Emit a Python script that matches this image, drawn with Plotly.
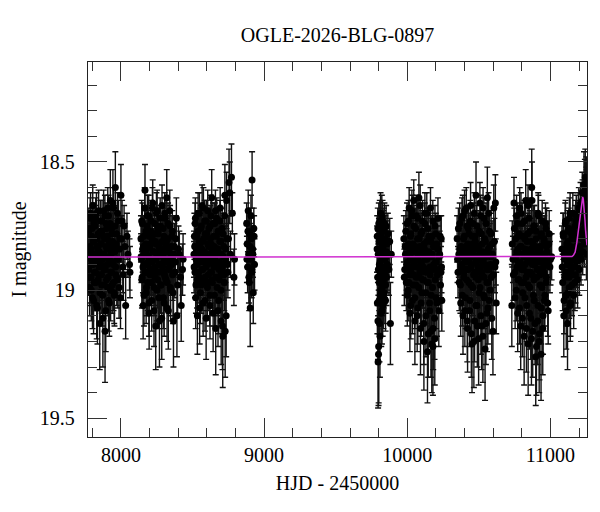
import plotly.graph_objects as go

# ============================================================
# DATOS: curva de luz OGLE (HJD - 2450000, magnitud I, error)
# errores en centesimas de magnitud; dos lotes por temporada
# ============================================================

t1 = [7771, 7774, 7778, 7781, 7784, 7788, 7791, 7794, 7798, 7801,
      7804, 7808, 7811, 7814, 7818, 7821, 7824, 7828, 7831, 7834,
      7838, 7841, 7844, 7848, 7851, 7854, 7858, 7861, 7864, 7868,
      7871, 7874, 7878, 7881, 7884, 7888, 7891, 7894, 7898, 7901,
      7904, 7908, 7911, 7914, 7918, 7921, 7924, 7928, 7931, 7934,
      7938, 7941, 7944, 7948, 7951, 7955, 7959, 7963, 7967, 7971,
      7976, 7981, 7987, 7993, 8000, 8008, 8017, 8028, 8042, 8060]
m1 = [18.85, 18.92, 18.78, 18.99, 18.83, 18.70, 18.95, 18.88, 18.76, 19.03,
      18.90, 18.81, 18.74, 18.97, 18.86, 18.93, 18.72, 18.89, 19.06, 18.80,
      18.84, 18.96, 18.69, 18.91, 18.87, 19.01, 18.77, 18.82, 18.94, 18.73,
      18.88, 19.11, 18.79, 18.86, 18.98, 18.71, 18.92, 19.08, 18.83, 18.76,
      18.90, 18.68, 18.95, 19.04, 18.81, 18.87, 18.74, 19.00, 18.85, 18.93,
      18.78, 18.89, 18.66, 18.97, 18.84, 19.02, 18.75, 18.91, 18.82, 18.95,
      18.70, 18.88, 18.99, 18.80, 18.63, 18.73, 18.94, 18.83, 18.79, 18.90]
e1 = [9, 10, 8, 11, 9, 8, 10, 9, 8, 12,
      10, 9, 8, 11, 9, 10, 8, 9, 13, 9,
      9, 11, 8, 10, 9, 12, 8, 9, 10, 8,
      9, 19, 9, 9, 11, 8, 10, 16, 9, 8,
      10, 8, 11, 12, 9, 9, 8, 12, 9, 10,
      8, 9, 13, 11, 9, 12, 8, 10, 9, 11,
      8, 9, 12, 9, 12, 8, 10, 9, 9, 10]
t1b = [7772, 7776, 7779, 7782, 7786, 7789, 7793, 7796, 7799, 7803,
       7806, 7809, 7812, 7816, 7819, 7823, 7826, 7829, 7833, 7836,
       7839, 7842, 7846, 7849, 7852, 7856, 7859, 7862, 7866, 7869,
       7872, 7876, 7879, 7883, 7886, 7889, 7892, 7896, 7899, 7902,
       7906, 7909, 7913, 7916, 7919, 7922, 7926, 7929, 7932, 7936,
       7939, 7942, 7946, 7949, 7953, 7957, 7961, 7965, 7969, 7973,
       7978, 7983, 7990, 7997, 8004, 8013, 8022, 8033, 8049, 8063]
m1b = [18.91, 18.76, 18.87, 18.95, 18.72, 18.84, 19.00, 18.79, 18.90, 18.67,
       18.86, 19.04, 18.81, 18.93, 18.75, 18.88, 18.97, 18.70, 18.83, 19.07,
       18.89, 18.78, 18.94, 18.85, 19.13, 18.73, 18.90, 18.82, 18.98, 18.77,
       19.02, 18.86, 18.69, 18.92, 18.80, 19.16, 18.87, 18.74, 18.96, 18.84,
       18.79, 18.99, 18.71, 18.88, 19.05, 18.83, 18.65, 18.93, 18.86, 18.76,
       18.98, 18.81, 18.90, 18.68, 19.01, 18.85, 18.60, 18.94, 18.78, 18.88,
       18.96, 18.73, 18.84, 19.03, 18.80, 18.91, 18.75, 19.06, 18.86, 18.93]
e1b = [10, 8, 9, 11, 8, 9, 12, 8, 10, 8,
       9, 13, 9, 10, 8, 9, 11, 8, 9, 14,
       10, 8, 11, 9, 18, 8, 10, 9, 11, 8,
       12, 9, 8, 10, 9, 20, 9, 8, 11, 9,
       8, 11, 8, 9, 13, 9, 12, 10, 9, 8,
       11, 9, 10, 8, 12, 9, 14, 10, 8, 9,
       11, 8, 9, 12, 9, 10, 8, 13, 9, 10]

t2 = [8140, 8143, 8147, 8150, 8154, 8157, 8161, 8164, 8168, 8171,
      8175, 8178, 8182, 8185, 8189, 8192, 8196, 8199, 8203, 8206,
      8210, 8213, 8217, 8220, 8224, 8227, 8231, 8234, 8238, 8241,
      8245, 8248, 8252, 8255, 8259, 8262, 8266, 8269, 8273, 8276,
      8280, 8283, 8287, 8290, 8294, 8297, 8301, 8304, 8308, 8311,
      8315, 8318, 8322, 8325, 8329, 8333, 8337, 8341, 8345, 8349,
      8354, 8359, 8364, 8370, 8376, 8383, 8391, 8402, 8416, 8434]
m2 = [18.80, 18.88, 18.96, 18.74, 18.91, 18.83, 19.02, 18.86, 18.61, 18.93,
      18.77, 18.99, 18.84, 18.71, 18.90, 18.87, 19.05, 18.79, 18.94, 18.82,
      18.73, 18.97, 18.89, 18.68, 18.92, 18.85, 19.08, 18.78, 18.95, 18.81,
      18.88, 18.70, 19.00, 18.86, 18.76, 18.93, 18.83, 19.12, 18.90, 18.75,
      18.98, 18.84, 18.67, 18.91, 18.87, 19.03, 18.79, 18.94, 18.72, 18.89,
      18.96, 18.81, 19.07, 18.85, 18.74, 18.92, 18.88, 18.69, 18.99, 18.83,
      18.90, 18.77, 19.01, 18.86, 18.93, 18.80, 19.10, 18.84, 18.95, 18.88]
e2 = [9, 9, 11, 8, 10, 9, 12, 9, 10, 10,
      8, 11, 9, 8, 10, 9, 13, 8, 10, 9,
      8, 11, 9, 8, 10, 9, 14, 8, 11, 9,
      9, 8, 12, 9, 8, 10, 9, 18, 10, 8,
      11, 9, 8, 10, 9, 12, 8, 10, 8, 9,
      11, 9, 13, 9, 8, 10, 9, 8, 11, 9,
      10, 8, 12, 9, 10, 9, 16, 9, 11, 10]
t2b = [8141, 8145, 8148, 8152, 8155, 8159, 8162, 8166, 8169, 8173,
       8176, 8180, 8183, 8187, 8190, 8194, 8197, 8201, 8204, 8208,
       8211, 8215, 8218, 8222, 8225, 8229, 8232, 8236, 8239, 8243,
       8246, 8250, 8253, 8257, 8260, 8264, 8267, 8271, 8274, 8278,
       8281, 8285, 8288, 8292, 8295, 8299, 8302, 8306, 8309, 8313,
       8316, 8320, 8323, 8327, 8331, 8335, 8339, 8343, 8347, 8352,
       8356, 8361, 8367, 8373, 8380, 8387, 8396, 8408, 8421, 8430]
m2b = [18.87, 18.73, 18.95, 18.84, 19.06, 18.79, 18.90, 18.68, 18.93, 18.82,
       19.01, 18.86, 18.75, 18.97, 18.89, 18.71, 19.09, 18.83, 18.92, 18.77,
       18.88, 19.04, 18.80, 18.66, 18.94, 18.85, 18.99, 18.74, 18.91, 19.14,
       18.82, 18.87, 18.69, 18.96, 18.78, 19.03, 18.90, 18.84, 18.72, 18.98,
       18.86, 19.11, 18.81, 18.93, 18.76, 18.89, 19.05, 18.70, 18.95, 18.83,
       18.88, 18.64, 18.97, 18.80, 19.08, 18.85, 18.91, 18.75, 19.00, 18.87,
       18.79, 18.94, 19.12, 18.83, 18.89, 18.72, 18.98, 18.86, 19.06, 18.92]
e2b = [9, 8, 11, 9, 13, 8, 10, 8, 10, 9,
       12, 9, 8, 11, 9, 8, 14, 9, 10, 8,
       9, 12, 9, 9, 10, 9, 11, 8, 10, 17,
       9, 9, 8, 11, 8, 12, 10, 9, 8, 11,
       9, 16, 9, 10, 8, 9, 13, 8, 11, 9,
       9, 11, 11, 9, 15, 9, 10, 8, 12, 9,
       8, 10, 18, 9, 9, 8, 11, 9, 14, 10]

t3 = [8510, 8513, 8517, 8520, 8524, 8527, 8531, 8534, 8538, 8541,
      8545, 8548, 8552, 8555, 8559, 8562, 8566, 8569, 8573, 8576,
      8580, 8583, 8587, 8590, 8594, 8597, 8601, 8604, 8608, 8611,
      8615, 8618, 8622, 8625, 8629, 8632, 8636, 8639, 8643, 8646,
      8650, 8653, 8657, 8660, 8664, 8667, 8671, 8674, 8678, 8681,
      8685, 8688, 8692, 8695, 8699, 8702, 8706, 8709, 8713, 8716,
      8720, 8724, 8728, 8733, 8738, 8744, 8751, 8760, 8772, 8793]
m3 = [18.86, 18.79, 18.93, 18.72, 18.98, 18.84, 18.90, 19.10, 18.77, 18.88,
      18.95, 18.70, 18.83, 19.01, 18.87, 18.75, 18.92, 18.81, 18.97, 18.68,
      18.89, 18.85, 19.04, 18.78, 18.91, 18.73, 18.86, 18.99, 18.82, 18.94,
      18.76, 18.88, 19.06, 18.80, 18.71, 18.93, 18.85, 18.97, 18.74, 18.90,
      18.83, 19.02, 18.87, 18.69, 18.95, 18.79, 18.91, 18.84, 19.08, 18.77,
      18.89, 18.96, 18.73, 18.86, 19.00, 18.81, 18.92, 19.14, 18.78, 18.87,
      18.94, 18.71, 19.16, 18.84, 18.65, 18.90, 18.80, 18.62, 18.56, 18.88]
e3 = [9, 9, 10, 8, 11, 9, 10, 15, 8, 9,
      10, 8, 9, 12, 9, 8, 10, 9, 11, 8,
      9, 9, 12, 8, 10, 8, 9, 11, 9, 10,
      8, 9, 13, 9, 8, 10, 9, 11, 8, 10,
      9, 12, 9, 8, 10, 8, 10, 9, 14, 8,
      9, 11, 8, 9, 12, 9, 10, 17, 8, 9,
      10, 8, 18, 9, 11, 10, 9, 12, 13, 10]
t3b = [8511, 8515, 8518, 8522, 8525, 8529, 8532, 8536, 8539, 8543,
       8546, 8550, 8553, 8557, 8560, 8564, 8567, 8571, 8574, 8578,
       8581, 8585, 8588, 8592, 8595, 8599, 8602, 8606, 8609, 8613,
       8616, 8620, 8623, 8627, 8630, 8634, 8637, 8641, 8644, 8648,
       8651, 8655, 8658, 8662, 8665, 8669, 8672, 8676, 8679, 8683,
       8686, 8690, 8693, 8697, 8700, 8704, 8707, 8711, 8714, 8718,
       8722, 8726, 8730, 8735, 8741, 8747, 8755, 8765, 8778, 8789]
m3b = [18.91, 18.83, 18.74, 19.03, 18.88, 18.79, 18.96, 18.85, 18.70, 18.93,
       18.81, 19.07, 18.89, 18.76, 18.98, 18.84, 18.67, 18.92, 19.05, 18.80,
       18.87, 18.73, 18.95, 18.86, 19.11, 18.78, 18.90, 18.69, 18.97, 18.83,
       18.88, 19.02, 18.75, 18.93, 18.82, 18.64, 18.96, 18.87, 19.09, 18.79,
       18.91, 18.74, 18.85, 19.15, 18.89, 18.72, 18.99, 18.84, 18.77, 19.04,
       18.92, 18.81, 18.68, 18.94, 19.12, 18.86, 18.76, 19.18, 18.90, 18.83,
       18.97, 18.63, 18.88, 19.10, 18.80, 18.93, 18.58, 18.86, 18.70, 18.95]
e3b = [10, 9, 8, 12, 9, 8, 11, 9, 8, 10,
       9, 14, 9, 8, 11, 9, 8, 10, 13, 9,
       9, 8, 11, 9, 16, 8, 10, 8, 11, 9,
       9, 12, 8, 10, 9, 11, 11, 9, 15, 8,
       10, 8, 9, 18, 9, 8, 11, 9, 8, 13,
       10, 9, 8, 10, 17, 9, 8, 20, 10, 9,
       11, 12, 9, 16, 9, 10, 13, 9, 8, 11]

t4 = [8878, 8882, 8885, 8889, 8892, 8896, 8899, 8903,
      8906, 8910, 8913, 8916, 8920, 8924, 8928, 8933,
      8880, 8887, 8894, 8901, 8908, 8915, 8922, 8930]
m4 = [18.74, 18.82, 18.91, 18.69, 18.86, 18.97, 18.78, 19.07,
      18.88, 18.80, 18.93, 18.57, 18.84, 19.01, 18.76, 18.90,
      18.88, 18.77, 18.95, 18.83, 18.71, 18.92, 18.86, 18.79]
e4 = [8, 9, 10, 8, 9, 11, 8, 15,
      9, 9, 10, 11, 9, 12, 8, 10,
      9, 8, 10, 9, 8, 10, 9, 8]

t5 = [9789, 9791, 9794, 9796, 9798, 9800, 9802, 9804, 9806, 9808,
      9810, 9812, 9814, 9816, 9818, 9820, 9822, 9824, 9826, 9828,
      9830, 9832, 9834, 9836, 9838, 9840, 9842, 9844, 9846, 9848,
      9850, 9852, 9855, 9858, 9861, 9864, 9868, 9872, 9877, 9882]
m5 = [18.84, 19.05, 18.76, 19.28, 18.92, 19.22, 18.81, 18.97, 19.13, 18.73,
      18.89, 19.02, 18.79, 18.94, 19.09, 18.86, 18.71, 18.99, 18.83, 19.06,
      18.91, 18.77, 18.96, 18.85, 19.01, 18.74, 18.88, 18.93, 18.80, 19.04,
      18.87, 18.75, 18.95, 18.82, 18.90, 18.78, 18.86, 18.92, 18.81, 19.13]
e5 = [9, 12, 8, 18, 10, 22, 9, 11, 15, 8,
      9, 12, 9, 10, 13, 9, 8, 11, 9, 12,
      10, 8, 11, 9, 12, 8, 9, 10, 9, 12,
      9, 8, 11, 9, 10, 8, 9, 10, 9, 16]
t5b = [9790, 9793, 9795, 9797, 9799, 9801, 9803, 9805, 9807, 9809,
       9811, 9813, 9815, 9817, 9819, 9821, 9823, 9825, 9827, 9829,
       9831, 9833, 9835, 9837, 9841, 9845, 9849, 9854, 9860, 9888]
m5b = [18.79, 18.95, 19.12, 18.86, 19.25, 18.74, 19.04, 18.90, 18.81, 19.18,
       18.93, 18.70, 19.00, 18.84, 18.97, 18.77, 19.08, 18.88, 18.73, 18.92,
       18.83, 19.03, 18.87, 18.76, 18.94, 18.81, 18.98, 18.85, 18.91, 18.86]
e5b = [8, 11, 15, 9, 20, 8, 13, 10, 9, 16,
       10, 8, 12, 9, 11, 8, 13, 9, 8, 10,
       9, 12, 9, 8, 11, 9, 11, 9, 10, 9]

t6 = [9976, 9982, 9987, 9993, 9998, 10002, 10006, 10010, 10013, 10017,
      10020, 10024, 10027, 10031, 10034, 10038, 10041, 10045, 10048, 10052,
      10055, 10059, 10062, 10066, 10069, 10073, 10076, 10080, 10083, 10087,
      10090, 10094, 10097, 10101, 10104, 10108, 10111, 10115, 10118, 10122,
      10125, 10129, 10132, 10136, 10139, 10143, 10146, 10150, 10153, 10157,
      10160, 10164, 10167, 10171, 10174, 10178, 10181, 10185, 10188, 10192,
      10195, 10199, 10203, 10207, 10212, 10217, 10223, 10229, 10235, 10241]
m6 = [18.80, 18.92, 18.86, 18.97, 18.74, 18.89, 19.00, 18.82, 18.68, 18.94,
      18.87, 19.06, 18.78, 18.91, 18.71, 18.85, 18.98, 18.65, 18.90, 19.03,
      18.83, 18.76, 18.95, 18.88, 19.10, 18.72, 18.86, 18.99, 18.80, 18.93,
      18.67, 18.89, 19.05, 18.84, 18.77, 18.96, 18.91, 19.13, 18.82, 18.74,
      18.88, 19.01, 18.85, 18.70, 18.97, 18.92, 19.17, 18.79, 18.87, 19.08,
      18.94, 18.81, 19.02, 19.21, 18.86, 18.73, 19.15, 18.90, 18.83, 19.19,
      18.96, 18.78, 18.89, 19.05, 18.84, 18.92, 18.87, 18.79, 18.93, 19.04]
e6 = [9, 10, 9, 11, 8, 9, 12, 9, 8, 10,
      9, 13, 8, 10, 8, 9, 11, 8, 10, 12,
      9, 8, 11, 9, 14, 8, 9, 11, 9, 10,
      8, 9, 13, 9, 8, 11, 10, 16, 9, 8,
      9, 12, 9, 8, 11, 10, 17, 9, 9, 14,
      10, 9, 12, 19, 9, 8, 16, 10, 9, 18,
      11, 8, 9, 13, 9, 10, 9, 8, 10, 12]
t6b = [9979, 9985, 9990, 9995, 10000, 10004, 10008, 10011, 10015, 10018,
       10022, 10025, 10029, 10032, 10036, 10039, 10043, 10046, 10050, 10053,
       10057, 10060, 10064, 10067, 10071, 10074, 10078, 10081, 10085, 10088,
       10092, 10095, 10099, 10102, 10106, 10109, 10113, 10116, 10120, 10123,
       10127, 10130, 10134, 10137, 10141, 10144, 10148, 10151, 10155, 10158,
       10162, 10165, 10169, 10172, 10176, 10179, 10183, 10186, 10190, 10193,
       10197, 10201, 10205, 10210, 10214, 10220, 10226, 10232, 10237, 10239]
m6b = [18.95, 18.83, 18.77, 18.90, 19.02, 18.86, 18.73, 18.97, 18.84, 19.09,
       18.79, 18.92, 18.88, 18.69, 19.04, 18.82, 18.94, 18.75, 18.89, 19.12,
       18.85, 18.98, 18.71, 18.91, 18.80, 19.07, 18.87, 18.64, 18.95, 18.83,
       19.15, 18.78, 18.90, 19.01, 18.73, 18.86, 18.96, 19.20, 18.84, 18.70,
       18.93, 19.10, 18.81, 18.88, 19.24, 18.76, 18.97, 18.85, 19.05, 18.91,
       18.68, 19.16, 18.87, 18.79, 18.99, 19.22, 18.83, 18.92, 19.11, 18.75,
       18.89, 19.03, 18.82, 18.94, 18.72, 19.08, 18.86, 18.98, 18.80, 18.91]
e6b = [11, 9, 8, 10, 12, 9, 8, 11, 9, 15,
       8, 10, 9, 8, 13, 9, 10, 8, 9, 17,
       9, 11, 8, 10, 9, 14, 9, 10, 11, 9,
       18, 8, 10, 12, 8, 9, 11, 19, 9, 8,
       10, 16, 9, 9, 20, 8, 11, 9, 13, 10,
       8, 18, 9, 8, 11, 19, 9, 10, 16, 8,
       9, 12, 9, 10, 8, 14, 9, 11, 9, 10]

t7 = [10348, 10354, 10360, 10366, 10371, 10376, 10380, 10384, 10388, 10391,
      10395, 10398, 10402, 10405, 10409, 10412, 10416, 10419, 10423, 10426,
      10430, 10433, 10437, 10440, 10444, 10447, 10451, 10454, 10458, 10461,
      10465, 10468, 10472, 10475, 10479, 10482, 10486, 10489, 10493, 10496,
      10500, 10503, 10507, 10510, 10514, 10517, 10521, 10524, 10528, 10531,
      10535, 10538, 10542, 10545, 10549, 10552, 10556, 10559, 10563, 10566,
      10570, 10574, 10578, 10582, 10587, 10592, 10598, 10604, 10612, 10621]
m7 = [18.80, 18.93, 18.86, 18.74, 18.98, 18.83, 18.90, 19.02, 18.71, 18.87,
      18.95, 18.79, 19.08, 18.85, 18.92, 18.68, 18.89, 19.12, 18.82, 18.76,
      18.97, 18.88, 19.04, 18.73, 18.91, 19.17, 18.84, 18.79, 18.99, 18.86,
      19.20, 18.70, 18.93, 18.81, 19.06, 18.89, 18.75, 19.14, 18.87, 18.96,
      18.83, 19.01, 18.66, 18.91, 19.10, 18.78, 18.94, 18.85, 19.18, 18.88,
      18.72, 19.03, 18.90, 18.81, 19.13, 18.86, 18.97, 18.64, 19.07, 18.84,
      18.92, 18.77, 19.00, 18.87, 18.95, 18.82, 19.16, 18.68, 18.91, 19.05]
e7 = [9, 10, 9, 8, 11, 9, 10, 12, 8, 9,
      11, 8, 14, 9, 10, 8, 9, 16, 9, 8,
      11, 9, 13, 8, 10, 17, 9, 8, 11, 9,
      18, 8, 10, 9, 14, 9, 8, 16, 9, 11,
      9, 12, 8, 10, 15, 8, 10, 9, 18, 9,
      8, 12, 10, 9, 16, 9, 11, 12, 14, 9,
      10, 8, 12, 9, 11, 9, 17, 9, 10, 12]
t7b = [10351, 10357, 10363, 10368, 10373, 10378, 10382, 10386, 10389, 10393,
       10396, 10400, 10403, 10407, 10410, 10414, 10417, 10421, 10424, 10428,
       10431, 10435, 10438, 10442, 10445, 10449, 10452, 10456, 10459, 10463,
       10466, 10470, 10473, 10477, 10480, 10484, 10487, 10491, 10494, 10498,
       10501, 10505, 10508, 10512, 10515, 10519, 10522, 10526, 10529, 10533,
       10536, 10540, 10543, 10547, 10550, 10554, 10557, 10561, 10564, 10568,
       10572, 10576, 10580, 10585, 10590, 10595, 10601, 10608, 10615, 10618]
m7b = [18.88, 18.76, 18.97, 18.84, 19.05, 18.91, 18.72, 18.86, 19.10, 18.80,
       18.93, 18.69, 18.89, 19.03, 18.83, 18.96, 18.75, 19.15, 18.87, 18.92,
       18.78, 19.08, 18.85, 18.67, 18.98, 18.90, 19.21, 18.82, 18.74, 18.94,
       18.87, 19.12, 18.79, 18.95, 18.63, 18.88, 19.06, 18.84, 18.91, 19.19,
       18.77, 18.86, 18.99, 18.71, 18.93, 19.14, 18.82, 18.89, 18.68, 19.02,
       18.95, 18.80, 19.23, 18.87, 18.74, 18.92, 19.09, 18.85, 18.97, 18.70,
       19.04, 18.83, 18.90, 18.78, 19.11, 18.86, 18.94, 18.81, 18.66, 18.89]
e7b = [9, 8, 11, 9, 13, 10, 8, 9, 15, 9,
       10, 8, 9, 12, 9, 11, 8, 17, 9, 10,
       8, 14, 9, 9, 11, 10, 19, 9, 8, 10,
       9, 16, 8, 11, 13, 9, 13, 9, 10, 18,
       8, 9, 11, 8, 10, 17, 9, 9, 8, 12,
       11, 9, 20, 9, 8, 10, 15, 9, 11, 8,
       13, 9, 10, 8, 16, 9, 10, 9, 11, 9]

t8 = [10730, 10738, 10745, 10751, 10756, 10761, 10765, 10769, 10773, 10776,
      10780, 10783, 10787, 10790, 10794, 10797, 10801, 10804, 10808, 10811,
      10815, 10818, 10822, 10825, 10829, 10832, 10836, 10839, 10843, 10846,
      10850, 10853, 10857, 10860, 10864, 10867, 10871, 10874, 10878, 10881,
      10885, 10888, 10892, 10895, 10899, 10902, 10906, 10909, 10913, 10916,
      10920, 10923, 10927, 10930, 10934, 10937, 10941, 10944, 10948, 10951,
      10955, 10958, 10962, 10965, 10969, 10973, 10978, 10984, 10991, 11000]
m8 = [19.06, 18.88, 18.66, 18.93, 18.80, 19.00, 18.85, 18.74, 18.96, 18.89,
      18.78, 19.07, 18.91, 18.83, 18.70, 18.97, 18.86, 19.11, 18.79, 18.92,
      18.87, 18.73, 19.03, 18.84, 18.95, 19.15, 18.81, 18.89, 18.67, 18.98,
      18.86, 19.09, 18.77, 18.93, 18.84, 19.19, 18.65, 18.90, 18.82, 19.02,
      18.96, 18.75, 19.13, 18.88, 18.80, 19.22, 18.92, 18.85, 19.06, 18.71,
      18.89, 19.17, 18.94, 18.83, 19.25, 18.78, 18.99, 18.87, 19.10, 18.91,
      18.81, 19.04, 18.86, 18.74, 18.97, 18.83, 18.90, 19.08, 18.78, 18.88]
e8 = [16, 9, 10, 10, 9, 12, 9, 8, 11, 9,
      8, 14, 10, 9, 8, 11, 9, 15, 9, 10,
      9, 8, 12, 9, 11, 17, 9, 9, 8, 11,
      9, 14, 8, 10, 9, 18, 15, 10, 9, 12,
      11, 8, 16, 9, 9, 19, 10, 9, 14, 8,
      9, 18, 10, 9, 18, 8, 11, 9, 15, 10,
      9, 12, 9, 8, 11, 15, 10, 13, 9, 10]
t8b = [10733, 10741, 10748, 10753, 10758, 10763, 10767, 10771, 10774, 10778,
       10781, 10785, 10788, 10792, 10795, 10799, 10802, 10806, 10809, 10813,
       10816, 10820, 10823, 10827, 10830, 10834, 10837, 10841, 10844, 10848,
       10851, 10855, 10858, 10862, 10865, 10869, 10872, 10876, 10879, 10883,
       10886, 10890, 10893, 10897, 10900, 10904, 10907, 10911, 10914, 10918,
       10921, 10925, 10928, 10932, 10935, 10939, 10942, 10946, 10949, 10953,
       10956, 10960, 10963, 10967, 10971, 10976, 10981, 10988, 10996, 11008]
m8b = [18.82, 18.94, 18.76, 19.03, 18.87, 18.71, 18.91, 19.09, 18.84, 18.79,
       18.96, 18.68, 18.89, 19.14, 18.83, 18.92, 18.74, 19.01, 18.86, 18.97,
       19.18, 18.80, 18.90, 18.65, 18.87, 19.06, 18.93, 18.78, 19.21, 18.85,
       18.72, 18.99, 18.88, 19.11, 18.81, 18.60, 18.94, 19.16, 18.86, 18.75,
       19.04, 18.90, 18.83, 19.26, 18.77, 18.95, 18.87, 19.12, 18.70, 18.92,
       19.20, 18.84, 18.98, 18.79, 19.07, 18.89, 18.73, 19.15, 18.86, 18.93,
       18.80, 19.02, 18.88, 18.76, 18.95, 18.85, 19.05, 18.82, 18.91, 18.87]
e8b = [9, 10, 8, 12, 9, 8, 10, 15, 9, 8,
       11, 8, 9, 17, 9, 10, 8, 12, 9, 11,
       19, 9, 10, 12, 9, 14, 10, 8, 20, 9,
       8, 11, 9, 16, 9, 15, 10, 18, 9, 8,
       13, 10, 9, 19, 8, 11, 9, 17, 8, 10,
       20, 9, 11, 8, 14, 9, 8, 18, 9, 10,
       9, 12, 9, 8, 11, 9, 13, 9, 10, 9]

t9 = [11080, 11085, 11090, 11095, 11099, 11103, 11107, 11110, 11114, 11117,
      11120, 11123, 11126, 11129, 11132, 11135, 11138, 11141, 11144, 11147,
      11150, 11153, 11156, 11159, 11162, 11165, 11168, 11171, 11174, 11177,
      11180, 11183, 11186, 11189, 11192, 11195, 11198, 11201, 11204, 11207,
      11210, 11213, 11216, 11219, 11222, 11225, 11228, 11231, 11234, 11237,
      11239, 11241, 11243, 11245, 11247, 11249, 11250, 11251, 11252, 11253]
m9 = [18.84, 18.97, 18.79, 19.04, 18.88, 18.74, 18.93, 19.08, 18.82, 18.90,
      18.77, 19.01, 18.86, 18.95, 18.72, 18.89, 19.06, 18.83, 18.92, 18.78,
      18.98, 18.85, 18.70, 18.91, 19.02, 18.80, 18.87, 18.75, 18.94, 18.83,
      18.71, 18.89, 18.79, 18.96, 18.74, 18.86, 18.68, 18.92, 18.77, 18.83,
      18.66, 18.88, 18.73, 18.80, 18.62, 18.85, 18.70, 18.76, 18.59, 18.82,
      18.67, 18.74, 18.56, 18.79, 18.64, 18.71, 18.58, 18.86, 18.68, 18.62]
e9 = [9, 11, 9, 13, 10, 8, 10, 15, 9, 10,
      8, 12, 9, 11, 8, 10, 14, 9, 10, 8,
      12, 9, 8, 10, 13, 9, 9, 8, 11, 9,
      8, 10, 9, 11, 8, 9, 8, 10, 8, 9,
      8, 10, 8, 9, 8, 9, 8, 9, 13, 9,
      8, 9, 11, 9, 8, 9, 10, 10, 8, 9]
t9b = [11082, 11088, 11093, 11097, 11101, 11105, 11109, 11112, 11116, 11119,
       11122, 11125, 11128, 11131, 11134, 11137, 11140, 11143, 11146, 11149,
       11152, 11158, 11164, 11170, 11176, 11182, 11188, 11194, 11200, 11206,
       11212, 11218, 11224, 11230, 11236, 11240, 11244, 11248, 11251, 11254]
m9b = [18.91, 18.78, 19.10, 18.86, 18.95, 18.73, 19.02, 18.84, 18.89, 19.13,
       18.81, 18.93, 18.76, 18.99, 18.87, 18.70, 19.05, 18.85, 18.91, 18.80,
       18.94, 18.77, 18.88, 18.97, 18.73, 18.84, 18.91, 18.70, 18.79, 18.87,
       18.69, 18.78, 18.65, 18.72, 18.81, 18.61, 18.69, 18.75, 18.63, 18.70]
e9b = [10, 8, 16, 9, 11, 8, 12, 9, 10, 18,
       9, 10, 8, 12, 9, 8, 13, 9, 10, 8,
       11, 8, 9, 11, 8, 9, 10, 8, 9, 9,
       8, 9, 8, 9, 9, 12, 9, 9, 11, 9]

# modelo (curva ajustada)
modelo_t = [7770, 11140, 11150, 11160, 11172, 11184, 11194, 11203, 11210, 11217,
            11221, 11225, 11229, 11233, 11236, 11241, 11245, 11250, 11255]
modelo_m = [18.871, 18.871, 18.869, 18.864, 18.852, 18.815, 18.766, 18.730, 18.700, 18.660,
            18.643, 18.636, 18.645, 18.665, 18.690, 18.730, 18.766, 18.800, 18.825]

titulo = "OGLE-2026-BLG-0897"

# ============================================================
# UNION DE TEMPORADAS
# ============================================================

hjd = t1 + t1b + t2 + t2b + t3 + t3b + t4 + t5 + t5b + t6 + t6b + t7 + t7b + t8 + t8b + t9 + t9b
mag = m1 + m1b + m2 + m2b + m3 + m3b + m4 + m5 + m5b + m6 + m6b + m7 + m7b + m8 + m8b + m9 + m9b
err_c = e1 + e1b + e2 + e2b + e3 + e3b + e4 + e5 + e5b + e6 + e6b + e7 + e7b + e8 + e8b + e9 + e9b
err = [e / 100 for e in err_c]

print(len(hjd), len(mag), len(err))

fuente = "Liberation Serif"

# ============================================================
# FIGURA
# (la pagina tiene 8 px de margen en el body: la figura se
#  dimensiona para que el marco caiga donde en la original)
# ============================================================

fig = go.Figure()

fig.add_trace(
    go.Scatter(
        x=hjd,
        y=mag,
        mode="markers",
        marker=dict(color="black", size=7),
        error_y=dict(type="data", array=err, visible=True,
                     color="#111111", thickness=1.4, width=3),
        hoverinfo="skip",
        showlegend=False
    )
)

fig.add_trace(
    go.Scatter(
        x=modelo_t,
        y=modelo_m,
        mode="lines",
        line=dict(color="#d030d0", width=1.5),
        hoverinfo="skip",
        showlegend=False
    )
)

ejes = dict(
    showline=True,
    linecolor="#222",
    linewidth=1.3,
    mirror="allticks",
    ticks="inside",
    ticklen=19,
    tickcolor="#333",
    tickwidth=1,
    showgrid=False,
    zeroline=False,
    automargin=False,
    tickfont=dict(family=fuente, size=20, color="black"),
)

fig.update_layout(
    width=584,
    height=496,
    margin=dict(l=80, r=5, t=54, b=67),
    paper_bgcolor="white",
    plot_bgcolor="white",
    font=dict(family=fuente, size=20, color="black"),
    title=dict(text=titulo, x=0.5, xref="paper", y=1 - 27 / 496,
               yref="container", yanchor="middle",
               font=dict(family=fuente, size=20, color="black")),
    xaxis=dict(
        ejes,
        range=[7770, 11255],
        tick0=0,
        dtick=1000,
        tickformat="d",
        minor=dict(ticks="inside", ticklen=9, tickcolor="#333", dtick=200, showgrid=False),
        title=dict(text="HJD - 2450000", standoff=10,
                   font=dict(family=fuente, size=20)),
    ),
    yaxis=dict(
        ejes,
        range=[19.573, 18.11],
        tick0=0,
        dtick=0.5,
        ticklabelstandoff=8,
        minor=dict(ticks="inside", ticklen=9, tickcolor="#333", dtick=0.1, showgrid=False),
        title=dict(text="I magnitude", standoff=8,
                   font=dict(family=fuente, size=20)),
    ),
)

fig.write_html("out.html")
